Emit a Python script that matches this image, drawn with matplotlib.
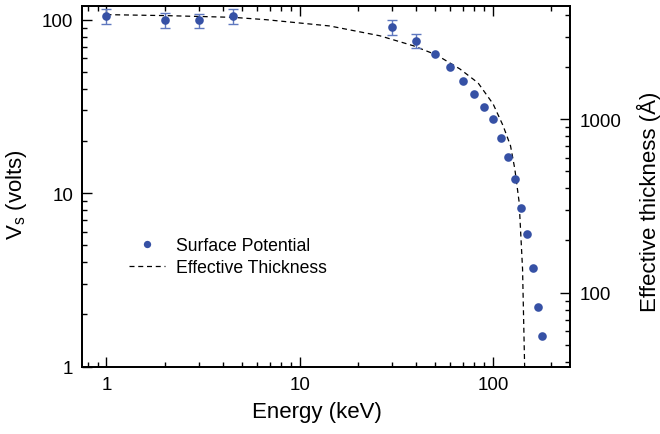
import matplotlib
matplotlib.use("Agg")
import matplotlib.pyplot as plt
from matplotlib.ticker import LogLocator, NullFormatter

plt.rcParams['font.family'] = ['Liberation Sans', 'DejaVu Sans']
plt.rcParams['mathtext.fontset'] = 'custom'
plt.rcParams['mathtext.rm'] = 'Liberation Sans'
plt.rcParams['mathtext.it'] = 'Liberation Sans'

# Surface potential data (keV, volts)
energy = [1, 2, 3, 4.5, 30, 40, 50, 60, 70, 80, 90, 100, 110, 120, 130, 140, 150, 160, 170, 180]
vs = [105, 100, 99, 105, 90.4, 75.7, 63, 53.2, 44.2, 37.2, 31.3, 26.7, 20.7, 16.1, 12.0, 8.2, 5.84, 3.71, 2.22, 1.51]
vs_err = [11, 10, 9.5, 11, 9, 7, 0, 0, 0, 0, 0, 0, 0, 0, 0, 0, 0, 0, 0, 0]

# Effective thickness curve (keV, Angstrom)
thick_energy = [1, 2, 4.5, 6.7, 14.3, 25.9, 38.6, 50.9, 67.3, 83.6, 100, 112.6, 123, 129.5, 136.3, 142, 146.2]
thickness = [4010, 3960, 3870, 3750, 3450, 3030, 2655, 2350, 1950, 1620, 1225, 918, 704, 517, 334, 137, 30]

fig = plt.figure(figsize=(6.6, 4.35), dpi=100)
ax = fig.add_axes([0.1247, 0.155, 0.739, 0.829])
ax2 = ax.twinx()

blue = '#3651a5'
ebar = '#5f78bf'

err_idx = [i for i, e in enumerate(vs_err) if e > 0]
ax.errorbar([energy[i] for i in err_idx], [vs[i] for i in err_idx],
            yerr=[vs_err[i] for i in err_idx], fmt='none', ecolor=ebar,
            elinewidth=1.0, capsize=3.5, capthick=1.0, zorder=2)
pts, = ax.plot(energy, vs, 'o', color=blue, markersize=6.2, markeredgewidth=0,
               label='Surface Potential', zorder=3)

ln, = ax2.plot(thick_energy, thickness, '--', color='black', lw=0.9,
               dashes=(4, 3), label='Effective Thickness')

ax.set_xscale('log')
ax.set_yscale('log')
ax2.set_yscale('log')
ax.set_xlim(0.75, 250)
ax.set_ylim(1, 120)
ax2.set_ylim(37.5, 4500)

ax.set_yticks([1, 10, 100])
ax.set_yticklabels(['1', '10', '100'])
ax.yaxis.set_minor_locator(LogLocator(base=10, subs=range(2, 10)))
ax.yaxis.set_minor_formatter(NullFormatter())
ax.set_xticks([1, 10, 100])
ax.set_xticklabels(['1', '10', '100'])
ax.xaxis.set_minor_locator(LogLocator(base=10, subs=range(2, 10)))
ax.xaxis.set_minor_formatter(NullFormatter())
ax2.set_yticks([100, 1000])
ax2.set_yticklabels(['100', '1000'])
ax2.yaxis.set_minor_locator(LogLocator(base=10, subs=range(2, 10)))
ax2.yaxis.set_minor_formatter(NullFormatter())

ax.tick_params(axis='both', which='major', direction='in', length=7, width=1.0,
               labelsize=13.5, top=True, right=False)
ax.tick_params(axis='both', which='minor', direction='in', length=3.5, width=1.0,
               top=True, right=False)
ax.tick_params(axis='y', which='major', pad=6.5)
ax.tick_params(axis='x', which='major', pad=7)
ax2.tick_params(axis='y', which='major', direction='in', length=7, width=1.0,
                labelsize=13.5, pad=7)
ax2.tick_params(axis='y', which='minor', direction='in', length=3.5, width=1.0)

for a in (ax, ax2):
    for s in a.spines.values():
        s.set_linewidth(1.3)

ax.set_xlabel('Energy (keV)', fontsize=16, labelpad=5)
ax.xaxis.set_label_coords(0.481, -0.095)
ax.set_ylabel(r'V$_\mathregular{s}$ (volts)', fontsize=16)
ax.yaxis.set_label_coords(-0.109, 0.48)
ax2.set_ylabel('Effective thickness (Å)', fontsize=16, rotation=90)
ax2.yaxis.set_label_coords(1.137, 0.459)

leg = ax.legend([pts, ln], ['Surface Potential', 'Effective Thickness'],
                loc='upper left', bbox_to_anchor=(0.064, 0.403), frameon=False,
                fontsize=12.7, handlelength=2.0, handletextpad=0.65,
                labelspacing=0.3, markerscale=0.85)
ax2.set_zorder(0)
ax.set_zorder(1)
ax.patch.set_visible(False)

fig.savefig('out.png', dpi=100)
